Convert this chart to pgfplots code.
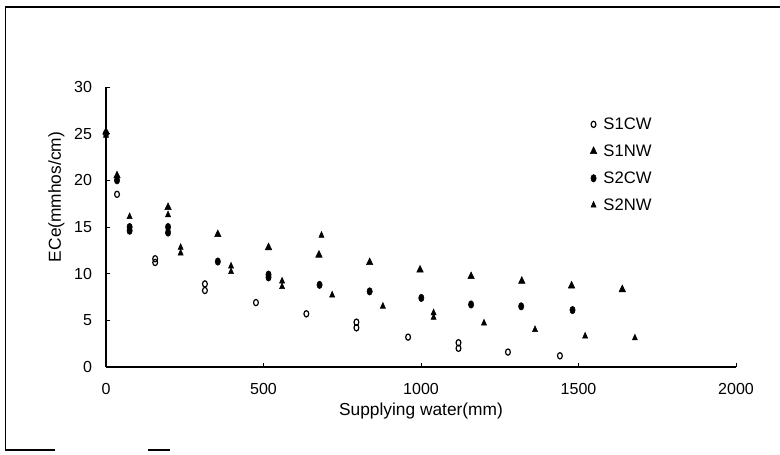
\documentclass[border=0pt]{standalone}
\usepackage{pgfplots}
\pgfplotsset{compat=1.18}
\usepackage{fontspec}
\setmainfont{Liberation Sans}
\begin{document}
\begin{tikzpicture}[x=0.75pt,y=0.75pt]
\path[use as bounding box] (0,0) rectangle (780,454);
\draw[line width=1.1pt] (5,447) -- (780,447);
\draw[line width=0.7pt] (5,447) -- (5,4);
\draw[line width=0.9pt] (5,4) -- (55,4);
\draw[line width=0.9pt] (148,4) -- (170,4);
\begin{axis}[
  at={(79.5pt,65.25pt)}, anchor=south west,
  scale only axis, width=472.5pt, height=210pt,
  xmin=0, xmax=2000, ymin=0, ymax=30,
  axis lines=left, axis line style={-, line width=0.9pt},
  xtick={0,500,...,2000}, ytick={0,5,...,30},
  tick align=inside, major tick length=3pt, tick style={black, line width=0.7pt},
  /pgf/number format/assume math mode=true,
  /pgf/number format/1000 sep={},
  tick label style={font=\fontsize{12}{14}\selectfont},
  xticklabel style={yshift=-9pt},
  yticklabel style={xshift=-7pt},
  label style={font=\fontsize{13}{15}\selectfont},
  xlabel={Supplying water(mm)},
  ylabel={ECe(mmhos/cm)},
  xlabel style={at={(axis description cs:0.5,-0.157)}, anchor=center},
  ylabel style={at={(axis description cs:-0.0786,0.607)}, anchor=center},
  clip=false,
  legend style={at={(rel axis cs:0.762,0.911)}, anchor=north west, draw=none, fill=none,
    font=\fontsize{12.5}{14}\selectfont, row sep=6pt, column sep=3pt, cells={anchor=west}},
  legend cell align=left,
]
\addplot[only marks, mark=o, mark size=1.8pt, mark options={black, line width=0.9pt, yscale=1.3}] coordinates {
 (0,25.0) (35,18.5) (156,11.6) (156,11.2) (314,8.9) (314,8.2) (476,6.9) (636,5.7)
 (795,4.8) (795,4.2) (959,3.2) (1119,2.6) (1119,2.0) (1276,1.6) (1441,1.2)
};
\addlegendentry{S1CW}
\addplot[only marks, mark=triangle*, mark size=2.8pt, mark options={black, yscale=1.2}] coordinates {
 (0,25.2) (35,20.5) (197,17.1) (355,14.2) (516,12.8) (676,12.0) (837,11.2) (997,10.4)
 (1159,9.7) (1320,9.2) (1478,8.7) (1639,8.3)
};
\addlegendentry{S1NW}
\addplot[only marks, mark=*, mark size=2.0pt, mark options={black, yscale=1.4}] coordinates {
 (35,20.0) (75,15.0) (75,14.6) (197,15.0) (197,14.4) (355,11.3) (516,9.9) (516,9.6)
 (678,8.8) (837,8.1) (1001,7.4) (1159,6.7) (1318,6.5) (1481,6.1)
};
\addlegendentry{S2CW}
\addplot[only marks, mark=triangle*, mark size=2.2pt, mark options={black, yscale=1.3}] coordinates {
 (0,24.8) (75,16.1) (197,16.3) (237,12.8) (237,12.2) (397,10.8) (397,10.2) (559,9.2)
 (559,8.6) (684,14.1) (718,7.7) (879,6.5) (1040,5.8) (1040,5.3) (1200,4.7) (1362,4.0)
 (1521,3.3) (1679,3.1)
};
\addlegendentry{S2NW}
\end{axis}
\end{tikzpicture}
\end{document}
